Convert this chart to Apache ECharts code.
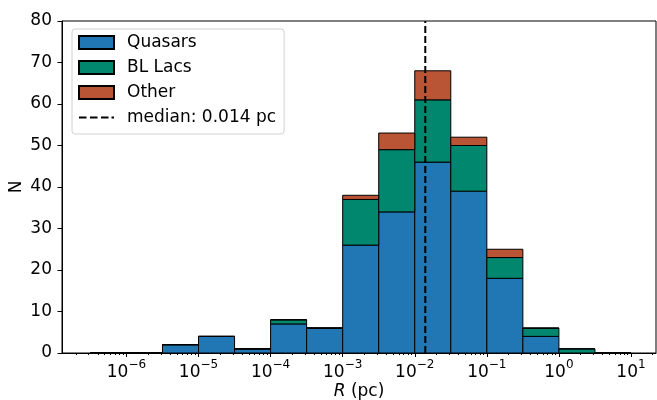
<!DOCTYPE html>
<html>
<head>
<meta charset="utf-8">
<script src="https://cdn.jsdelivr.net/npm/echarts@6.0.0/dist/echarts.min.js"></script>
<style>
html, body { margin: 0; padding: 0; background: #fff; }
#chart { width: 657px; height: 400px; }
</style>
</head>
<body>
<div id="chart"></div>
<script>
// bins in log10(R / pc), half a decade wide
var binLo = [-6.5, -6, -5.5, -5, -4.5, -4, -3.5, -3, -2.5, -2, -1.5, -1, -0.5, 0, 0.5];
var binHi = [-6, -5.5, -5, -4.5, -4, -3.5, -3, -2.5, -2, -1.5, -1, -0.5, 0, 0.5, 1];

// counts per bin
var quasars = [0, 0, 2, 4, 1, 7, 6, 26, 34, 46, 39, 18, 4, 0, 0];
var blLacs  = [0, 0, 0, 0, 0, 1, 0, 11, 15, 15, 11, 5, 2, 1, 0];
var other   = [0, 0, 0, 0, 0, 0, 0, 1, 4, 7, 2, 2, 0, 0, 0];

var medianR = 0.014;
var majorTicks = [-6, -5, -4, -3, -2, -1, 0, 1];
var yTicks = [0, 10, 20, 30, 40, 50, 60, 70, 80];

var FONT = 'DejaVu Sans';
var FS = 17;
var xMin = -6.894, xMax = 1.347;

// log minor ticks (2..9 x 10^n)
var minorTicks = [];
for (var n = -7; n <= 1; n++) {
    for (var k = 2; k <= 9; k++) {
        var t = n + Math.log10(k);
        if (t > xMin && t < xMax) minorTicks.push(t);
    }
}

// stack the layers
function layer(counts, below) {
    return counts.map(function(c, i) {
        var base = 0;
        below.forEach(function(b) { base += b[i]; });
        return [binLo[i], binHi[i], base, base + c];
    });
}

function renderBar(params, api) {
    var p0 = api.coord([api.value(0), api.value(3)]);
    var p1 = api.coord([api.value(1), api.value(2)]);
    return {
        type: 'rect',
        shape: { x: p0[0], y: p0[1], width: p1[0] - p0[0], height: p1[1] - p0[1] },
        style: { fill: api.visual('color'), stroke: '#000', lineWidth: 1 }
    };
}

function renderMedian(params, api) {
    var p0 = api.coord([api.value(0), api.value(1)]);
    var p1 = api.coord([api.value(0), api.value(2)]);
    return {
        type: 'line',
        shape: { x1: p0[0], y1: p0[1], x2: p1[0], y2: p1[1] },
        style: { stroke: '#000', lineWidth: 2, lineDash: [7, 3] }
    };
}

function histSeries(name, color, data) {
    return {
        name: name,
        type: 'custom',
        renderItem: renderBar,
        itemStyle: { color: color, borderColor: '#000', borderWidth: 1 },
        encode: { x: [0, 1], y: [2, 3] },
        data: data
    };
}

// dashed legend key (the two bare moves keep the icon box at 35x13)
var dashIcon = 'path://M0,0M35,13M0,5.5h7.5v2h-7.5zM11,5.5h7.5v2h-7.5zM22,5.5h7.5v2h-7.5zM32.5,5.5h2.5v2h-2.5z';

var myChart = echarts.init(document.getElementById('chart'));

var option = {
    animation: false,
    textStyle: { fontFamily: FONT },
    grid: {
        left: 62, right: 1, top: 21, bottom: 47,
        show: true, borderColor: '#000', borderWidth: 1,
        outerBoundsMode: 'none'
    },
    legend: {
        orient: 'vertical',
        left: 72, top: 29,
        padding: [5, 8, 8, 6],
        itemWidth: 35, itemHeight: 13, itemGap: 8,
        backgroundColor: 'rgba(255,255,255,0.8)',
        borderColor: '#d0d0d0', borderWidth: 1, borderRadius: 3,
        textStyle: { fontFamily: FONT, fontSize: FS, color: '#000', lineHeight: 17, padding: [0, 0, 0, 8] },
        data: [
            { name: 'Quasars', icon: 'rect' },
            { name: 'BL Lacs', icon: 'rect' },
            { name: 'Other', icon: 'rect' },
            { name: 'median: 0.014 pc', icon: dashIcon }
        ]
    },
    xAxis: [{
        type: 'value', min: xMin, max: xMax,
        name: '{i|R} (pc)', nameLocation: 'middle', nameGap: 30, nameMoveOverlap: false,
        nameTextStyle: {
            fontFamily: FONT, fontSize: FS, color: '#000',
            rich: { i: { fontFamily: FONT, fontSize: FS, fontStyle: 'italic', color: '#000' } }
        },
        axisLine: { onZero: false, lineStyle: { color: '#000', width: 1 } },
        axisTick: { length: 4, lineStyle: { color: '#000' }, customValues: majorTicks },
        axisLabel: {
            customValues: majorTicks, margin: 6, color: '#000',
            formatter: function(v) {
                var e = v < 0 ? '\u2212' + (-v) : String(v);
                return '{b|10}{s|' + e + '}';
            },
            rich: {
                b: { fontFamily: FONT, fontSize: FS, color: '#000', lineHeight: 22, verticalAlign: 'bottom' },
                s: { fontFamily: FONT, fontSize: 12, color: '#000', lineHeight: 12, verticalAlign: 'top' }
            }
        },
        splitLine: { show: false }
    }, {
        type: 'value', min: xMin, max: xMax, position: 'bottom',
        axisLine: { show: false, onZero: false },
        axisTick: { length: 2, lineStyle: { color: '#000' }, customValues: minorTicks },
        axisLabel: { show: false },
        splitLine: { show: false }
    }],
    yAxis: {
        type: 'value', min: 0, max: 80, interval: 10,
        name: 'N', nameLocation: 'middle', nameGap: 37, nameRotate: 90, nameMoveOverlap: false,
        nameTextStyle: { fontFamily: FONT, fontSize: FS, color: '#000' },
        axisLine: { show: true, onZero: false, lineStyle: { color: '#000', width: 1 } },
        axisTick: { show: true, length: 4.5, lineStyle: { color: '#000' }, customValues: yTicks },
        axisLabel: { fontFamily: FONT, fontSize: FS, color: '#000', margin: 10 },
        splitLine: { show: false }
    },
    series: [
        histSeries('Quasars', '#2077b4', layer(quasars, [])),
        histSeries('BL Lacs', '#00876d', layer(blLacs, [quasars])),
        histSeries('Other', '#b95435', layer(other, [quasars, blLacs])),
        {
            name: 'median: 0.014 pc',
            type: 'custom',
            renderItem: renderMedian,
            itemStyle: { color: '#000' },
            encode: { x: 0, y: [1, 2] },
            data: [[Math.log10(medianR), 0, 80]],
            z: 5
        }
    ]
};

myChart.setOption(option);
</script>
</body>
</html>
